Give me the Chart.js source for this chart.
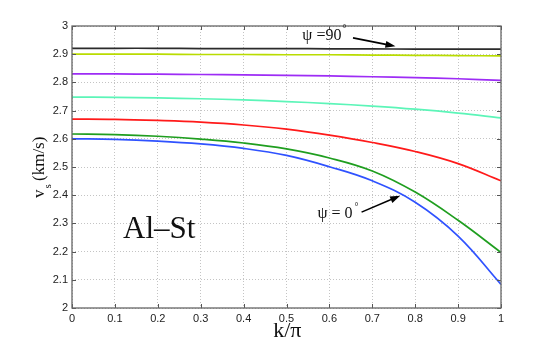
<!DOCTYPE html>
<html>
<head>
<meta charset="utf-8">
<script src="https://cdn.jsdelivr.net/npm/chart.js@4/dist/chart.umd.min.js"></script>
<style>
  html, body { margin: 0; padding: 0; background: #fff; }
  #wrap { width: 554px; height: 347px; }
</style>
</head>
<body>
<div id="wrap"><canvas id="chart" width="554" height="347"></canvas></div>
<script>
// k/pi sample points
const kValues = [0, 0.1, 0.2, 0.3, 0.4, 0.5, 0.6, 0.7, 0.8, 0.9, 1.0]

// shear wave velocity (km/s), one array per angle psi, from 90 deg down to 0 deg
const psi90 = [2.921, 2.921, 2.921, 2.920, 2.920, 2.920, 2.919, 2.919, 2.918, 2.918, 2.918]
const psi75 = [2.900, 2.900, 2.900, 2.899, 2.899, 2.898, 2.898, 2.897, 2.896, 2.895, 2.894]
const psi60 = [2.830, 2.830, 2.829, 2.828, 2.827, 2.825, 2.823, 2.820, 2.817, 2.813, 2.807]
const psi45 = [2.748, 2.747, 2.745, 2.742, 2.738, 2.732, 2.725, 2.716, 2.705, 2.691, 2.674]
const psi30 = [2.670, 2.669, 2.665, 2.659, 2.649, 2.634, 2.613, 2.587, 2.555, 2.512, 2.451]
const psi15 = [2.617, 2.615, 2.609, 2.599, 2.585, 2.564, 2.532, 2.486, 2.411, 2.311, 2.197]
const psi0 = [2.600, 2.598, 2.592, 2.582, 2.566, 2.541, 2.501, 2.451, 2.375, 2.255, 2.084]

const seriesList = [psi90, psi75, psi60, psi45, psi30, psi15, psi0]
const seriesColors = ["#2b2b2b", "#b9dc00", "#9d2cf5", "#5cf5b8", "#ff1a1a", "#1f9e1f", "#2f52ff"]

const xTicks = [0, 0.1, 0.2, 0.3, 0.4, 0.5, 0.6, 0.7, 0.8, 0.9, 1]
const yTicks = [2, 2.1, 2.2, 2.3, 2.4, 2.5, 2.6, 2.7, 2.8, 2.9, 3]

const datasets = seriesList.map((vals, i) => ({
  data: vals.map((v, j) => ({ x: kValues[j], y: v })),
  borderColor: seriesColors[i],
  borderWidth: 1.7,
  pointRadius: 0,
  tension: 0.4,
  fill: false,
}))

function fmt(v) {
  return String(Number(v.toFixed(1)))
}

// frame, inward ticks, labels and arrows
const decorations = {
  id: "decorations",
  afterDatasetsDraw(chart) {
    const { ctx, chartArea: a, scales } = chart
    const xs = scales.x
    const ys = scales.y
    ctx.save()

    // inward tick marks on all sides
    ctx.strokeStyle = "#555"
    ctx.lineWidth = 1
    ctx.beginPath()
    xTicks.forEach((t) => {
      const px = Math.round(xs.getPixelForValue(t)) + 0.5
      ctx.moveTo(px, a.bottom); ctx.lineTo(px, a.bottom - 4)
      ctx.moveTo(px, a.top); ctx.lineTo(px, a.top + 4)
    })
    yTicks.forEach((t) => {
      const py = Math.round(ys.getPixelForValue(t)) + 0.5
      ctx.moveTo(a.left, py); ctx.lineTo(a.left + 4, py)
      ctx.moveTo(a.right, py); ctx.lineTo(a.right - 4, py)
    })
    ctx.stroke()

    // box
    ctx.lineWidth = 1.3
    ctx.strokeStyle = "#666"
    ctx.strokeRect(a.left, a.top, a.right - a.left, a.bottom - a.top)

    ctx.fillStyle = "#111"
    ctx.textBaseline = "alphabetic"
    ctx.textAlign = "left"

    // Al-St label
    ctx.font = "31px 'Liberation Serif', serif"
    ctx.fillText("Al\u2013St", xs.getPixelForValue(0.119), ys.getPixelForValue(2.248))

    // psi = 90 label
    ctx.font = "16px 'Liberation Serif', serif"
    let px = xs.getPixelForValue(0.537)
    let py = ys.getPixelForValue(2.95)
    ctx.fillText("\u03c8 =90", px, py)
    let w = ctx.measureText("\u03c8 =90").width
    ctx.font = "10px 'Liberation Serif', serif"
    ctx.fillText("\u00b0", px + w + 1, py - 8)

    // psi = 0 label
    ctx.font = "16px 'Liberation Serif', serif"
    px = xs.getPixelForValue(0.572)
    py = ys.getPixelForValue(2.319)
    ctx.fillText("\u03c8 = 0", px, py)
    w = ctx.measureText("\u03c8 = 0").width
    ctx.font = "10px 'Liberation Serif', serif"
    ctx.fillText("\u00b0", px + w + 2, py - 8)

    // arrows
    function arrow(x0, y0, x1, y1) {
      const p0x = xs.getPixelForValue(x0), p0y = ys.getPixelForValue(y0)
      const p1x = xs.getPixelForValue(x1), p1y = ys.getPixelForValue(y1)
      const ang = Math.atan2(p1y - p0y, p1x - p0x)
      ctx.strokeStyle = "#000"
      ctx.lineWidth = 1.6
      ctx.beginPath()
      ctx.moveTo(p0x, p0y)
      ctx.lineTo(p1x - 6 * Math.cos(ang), p1y - 6 * Math.sin(ang))
      ctx.stroke()
      ctx.fillStyle = "#000"
      ctx.beginPath()
      ctx.moveTo(p1x, p1y)
      ctx.lineTo(p1x - 10 * Math.cos(ang) + 3.5 * Math.sin(ang), p1y - 10 * Math.sin(ang) - 3.5 * Math.cos(ang))
      ctx.lineTo(p1x - 10 * Math.cos(ang) - 3.5 * Math.sin(ang), p1y - 10 * Math.sin(ang) + 3.5 * Math.cos(ang))
      ctx.closePath()
      ctx.fill()
    }
    arrow(0.655, 2.958, 0.754, 2.928)
    arrow(0.675, 2.340, 0.765, 2.398)

    // x axis title
    ctx.fillStyle = "#111"
    ctx.font = "22px 'Liberation Serif', serif"
    ctx.textAlign = "center"
    ctx.fillText("k/\u03c0", xs.getPixelForValue(0.502), 337)

    // y axis title: v_s (km/s)
    ctx.translate(44, 198)
    ctx.rotate(-Math.PI / 2)
    ctx.textAlign = "left"
    ctx.font = "17px 'Liberation Serif', serif"
    ctx.fillText("v", 0, 0)
    const vw = ctx.measureText("v").width
    ctx.font = "11px 'Liberation Serif', serif"
    ctx.fillText("s", vw + 1, 7)
    ctx.font = "17px 'Liberation Serif', serif"
    ctx.fillText("(km/s)", 17, 0)

    ctx.restore()
  },
}

new Chart(document.getElementById("chart").getContext("2d"), {
  type: "line",
  data: { datasets: datasets },
  options: {
    responsive: false,
    devicePixelRatio: 1,
    animation: false,
    layout: { padding: { top: 26, right: 53, bottom: 0, left: 0 } },
    plugins: {
      legend: { display: false },
      tooltip: { enabled: false },
    },
    scales: {
      x: {
        type: "linear",
        min: 0,
        max: 1,
        afterFit: (scale) => { scale.height = 39 },
        afterBuildTicks: (scale) => { scale.ticks = xTicks.map((v) => ({ value: v })) },
        ticks: {
          callback: (v) => fmt(v),
          font: { family: "'Liberation Sans', Arial, sans-serif", size: 11 },
          color: "#222",
          padding: 4,
          maxRotation: 0,
        },
        grid: { color: "#c4c4c4", lineWidth: 1, drawTicks: false },
        border: { display: false, dash: [1, 2] },
      },
      y: {
        type: "linear",
        min: 2,
        max: 3,
        afterFit: (scale) => { scale.width = 72 },
        afterBuildTicks: (scale) => { scale.ticks = yTicks.map((v) => ({ value: v })) },
        ticks: {
          callback: (v) => fmt(v),
          font: { family: "'Liberation Sans', Arial, sans-serif", size: 11 },
          color: "#222",
          padding: 4,
        },
        grid: { color: "#c4c4c4", lineWidth: 1, drawTicks: false },
        border: { display: false, dash: [1, 2] },
      },
    },
  },
  plugins: [decorations],
})
</script>
</body>
</html>
